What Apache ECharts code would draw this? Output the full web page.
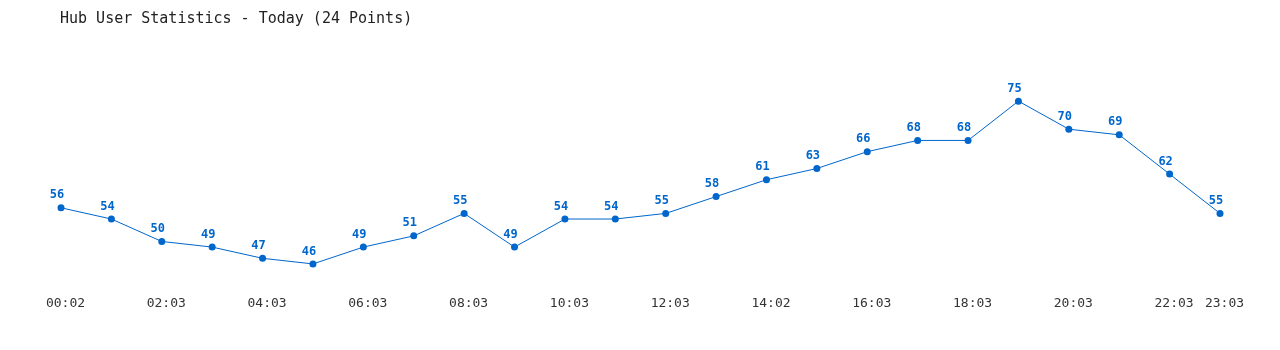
<!DOCTYPE html>
<html>
<head>
<meta charset="utf-8">
<script src="https://cdn.jsdelivr.net/npm/echarts@6/dist/echarts.min.js"></script>
<style>
html,body{margin:0;padding:0;background:#fff;}
#chart{width:1280px;height:350px;}
</style>
</head>
<body>
<div id="chart"></div>
<script>
const categories = ["00:02","01:03","02:03","03:03","04:03","05:03","06:03","07:03","08:03","09:03","10:03","11:03","12:03","13:03","14:02","15:03","16:03","17:03","18:03","19:03","20:03","21:03","22:03","23:03"];
const users = [56,54,50,49,47,46,49,51,55,49,54,54,55,58,61,63,66,68,68,75,70,69,62,55];
const titleText = "Hub User Statistics - Today (24 Points)";

const mono = "'DejaVu Sans Mono', 'Liberation Mono', monospace";
const chart = echarts.init(document.getElementById('chart'));
chart.setOption({
  animation: false,
  backgroundColor: '#ffffff',
  title: {
    text: titleText,
    left: 55,
    top: 7,
    textStyle: {fontFamily: mono, fontSize: 15, fontWeight: 'normal', color: '#222'}
  },
  grid: {left: 61, right: 60, top: 45, bottom: 58},
  xAxis: {
    type: 'category',
    data: categories,
    boundaryGap: false,
    axisLine: {show: false},
    axisTick: {show: false},
    axisLabel: {
      interval: function (i) { return i % 2 === 0 || i === categories.length - 1; },
      fontFamily: mono,
      fontSize: 13,
      color: '#333',
      margin: 5,
      padding: [0, 0, 0, 9]
    },
    splitLine: {show: false}
  },
  yAxis: {
    type: 'value',
    min: 41,
    max: 85,
    show: false,
    splitLine: {show: false}
  },
  series: [{
    type: 'line',
    data: users,
    symbol: 'circle',
    symbolSize: 7,
    lineStyle: {color: '#0066cc', width: 1},
    itemStyle: {color: '#0066cc'},
    label: {
      show: true,
      position: 'top',
      distance: 3,
      offset: [-4, 0],
      fontFamily: mono,
      fontSize: 12,
      fontWeight: 'bold',
      color: '#0066cc'
    }
  }]
});
</script>
</body>
</html>
